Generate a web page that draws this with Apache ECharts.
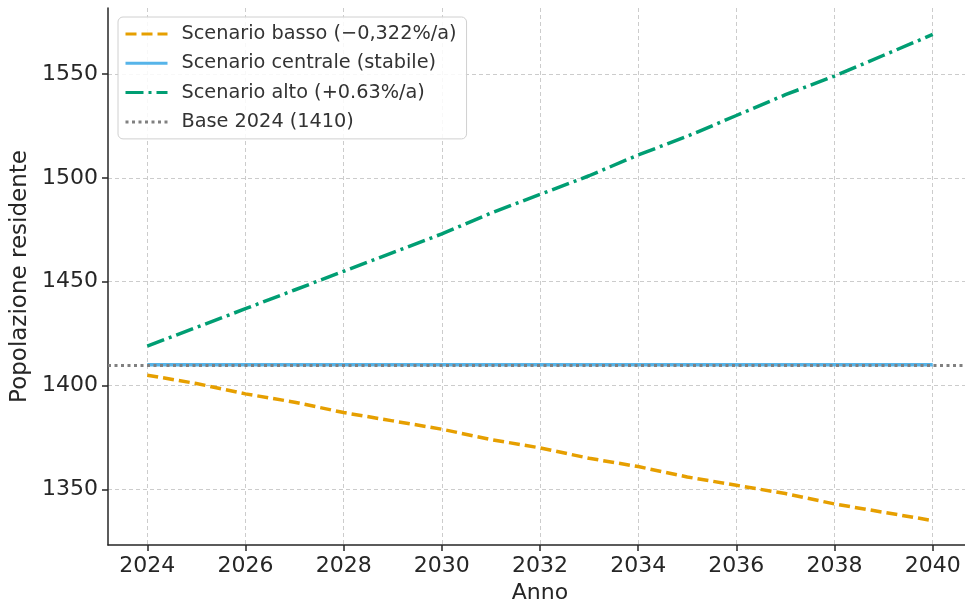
<!DOCTYPE html>
<html>
<head>
<meta charset="utf-8">
<script src="https://cdn.jsdelivr.net/npm/echarts@6/dist/echarts.min.js"></script>
<style>
html,body{margin:0;padding:0;background:#fff;}
#chart{width:965px;height:606px;}
</style>
</head>
<body>
<div id="chart"></div>
<script>
const years = [2024,2025,2026,2027,2028,2029,2030,2031,2032,2033,2034,2035,2036,2037,2038,2039,2040];
const scenarioBasso = [1405,1401,1396,1392,1387,1383,1379,1374,1370,1365,1361,1356,1352,1348,1343,1339,1335];
const scenarioCentrale = [1410,1410,1410,1410,1410,1410,1410,1410,1410,1410,1410,1410,1410,1410,1410,1410,1410];
const scenarioAlto = [1419,1428,1437,1446,1455,1464,1473,1483,1492,1501,1511,1520,1530,1540,1549,1559,1569];
const baseValue = 1410;
const xTicks = [2024,2026,2028,2030,2032,2034,2036,2038,2040];
const yTicks = [1350,1400,1450,1500,1550];
const seriesNames = ['Scenario basso (\u22120,322%/a)','Scenario centrale (stabile)','Scenario alto (+0.63%/a)','Base 2024 (1410)'];

const FONT = 'DejaVu Sans';
const chart = echarts.init(document.getElementById('chart'), null, {renderer:'canvas'});
const pair = arr => years.map((y,i)=>[y,arr[i]]);
const plain = v => String(v);

const option = {
  backgroundColor:'#ffffff',
  animation:false,
  textStyle:{fontFamily:FONT},
  grid:{left:108, top:8, right:-7, bottom:61, containLabel:false, outerBoundsMode:'none'},
  legend:{
    orient:'vertical', left:118, top:17,
    itemWidth:42, itemHeight:19, itemGap:10.3,
    padding:[7.5,10,7.5,6],
    borderColor:'#d0d0d0', borderWidth:1, borderRadius:5,
    backgroundColor:'rgba(255,255,255,0.85)',
    itemStyle:{color:'rgba(0,0,0,0)', borderWidth:0, opacity:0},
    lineStyle:{width:3},
    textStyle:{fontFamily:FONT, fontSize:19.3, color:'#333333', padding:[0,0,0,9]},
    data:seriesNames
  },
  xAxis:{
    type:'value', min:2023.2, max:2040.8,
    name:'Anno', nameLocation:'middle', nameGap:36,
    nameTextStyle:{fontFamily:FONT, fontSize:22, color:'#262626'},
    axisLine:{show:true, onZero:false, lineStyle:{color:'#262626', width:1.5}},
    axisTick:{show:true, inside:false, length:6, lineStyle:{color:'#262626', width:1.5}, customValues:xTicks},
    axisLabel:{fontFamily:FONT, fontSize:22, color:'#262626', margin:10, customValues:xTicks, formatter:plain},
    splitLine:{show:true, lineStyle:{color:'#cccccc', width:1, type:[4,3]}}
  },
  yAxis:{
    type:'value', min:1323.25, max:1581.75,
    name:'Popolazione residente', nameLocation:'middle', nameGap:55, nameRotate:90,
    nameTextStyle:{fontFamily:FONT, fontSize:23, color:'#262626'},
    axisLine:{show:true, onZero:false, lineStyle:{color:'#262626', width:1.5}},
    axisTick:{show:true, inside:false, length:6, lineStyle:{color:'#262626', width:1.5}, customValues:yTicks},
    axisLabel:{fontFamily:FONT, fontSize:22, color:'#262626', margin:10, customValues:yTicks, formatter:plain},
    splitLine:{show:true, lineStyle:{color:'#cccccc', width:1, type:[4,3]}}
  },
  series:[
    {name:seriesNames[0], type:'line', data:pair(scenarioBasso), symbol:'none', z:3,
     lineStyle:{color:'#E69F00', width:3.5, type:[11,5]}, itemStyle:{color:'#E69F00'}},
    {name:seriesNames[1], type:'line', data:pair(scenarioCentrale), symbol:'none', z:4,
     lineStyle:{color:'#56B4E9', width:3.5, type:'solid'}, itemStyle:{color:'#56B4E9'}},
    {name:seriesNames[2], type:'line', data:pair(scenarioAlto), symbol:'none', z:5,
     lineStyle:{color:'#009E73', width:3.5, type:[18,5,3,5]}, itemStyle:{color:'#009E73'}},
    {name:seriesNames[3], type:'line', data:[], symbol:'none', z:6,
     lineStyle:{color:'#808080', width:3, type:[3,3.5]}, itemStyle:{color:'#808080'},
     markLine:{silent:true, symbol:['none','none'], label:{show:false},
       lineStyle:{color:'#808080', width:3, type:[3,3.5]},
       data:[{yAxis:baseValue}]}}
  ]
};
chart.setOption(option);
</script>
</body>
</html>
